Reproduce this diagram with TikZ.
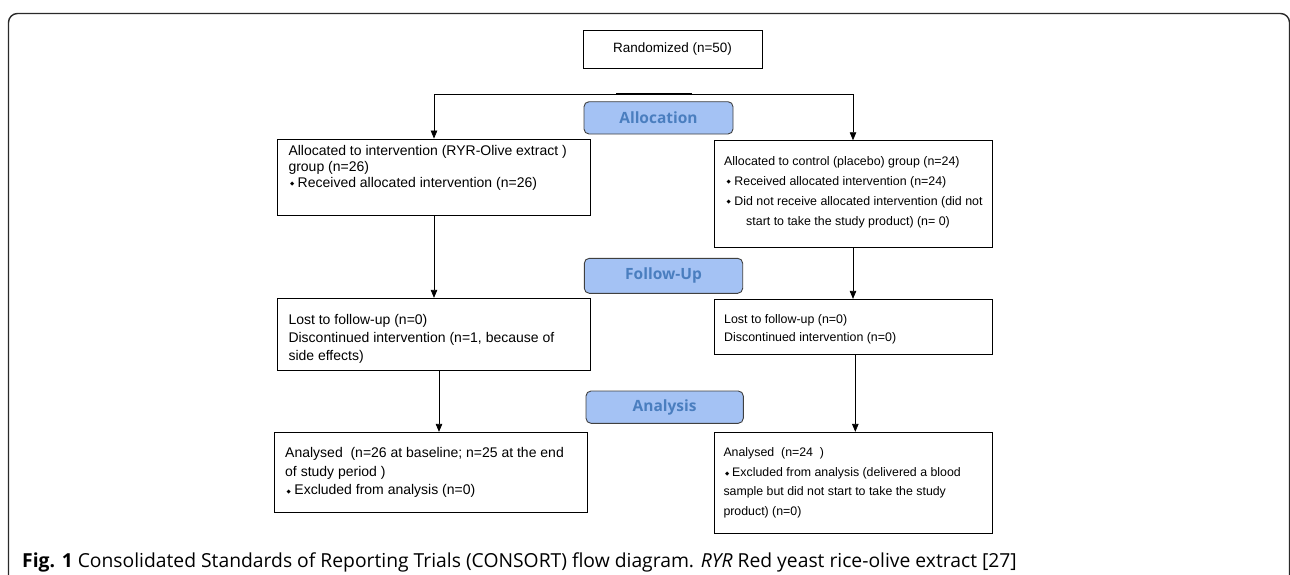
\documentclass[tikz,border=0pt]{standalone}
\usepackage{fontspec}
\setmainfont{Liberation Sans}
\newfontfamily\hdrfont{Open Sans}
\newfontfamily\capfont{Open Sans}
\newfontfamily\djv{DejaVu Sans}
\usetikzlibrary{arrows.meta}
\definecolor{hdrfill}{HTML}{A4C2F4}
\definecolor{hdrtext}{HTML}{4A7EBF}
\definecolor{framecol}{HTML}{2A2A2A}
\newcommand\bul{{\djv\fontsize{5.5}{5}\selectfont\raisebox{1.2pt}{◆}}}
\begin{document}
\begin{tikzpicture}[x=1pt,y=-1pt,
  box/.style={draw=black, line width=0.9pt, rectangle, inner sep=0pt},
  hdr/.style={draw=black!75, line width=0.9pt, fill=hdrfill, rounded corners=5pt,
     rectangle, inner sep=0pt, text=hdrtext, font=\hdrfont\bfseries\fontsize{15.5}{18}\selectfont},
  txt/.style={anchor=north west, inner sep=0pt, align=left},
  arr/.style={line width=0.8pt, -{Triangle[length=8pt,width=6.5pt]}}]
\useasboundingbox (0,0) rectangle (1290,574);
\begin{scope}
\clip (0,0) rectangle (1290,574);
\draw[framecol, line width=1.4pt, rounded corners=9pt] (8.5,600) -- (8.5,13.5) -- (1289.5,13.5) -- (1289.5,600);
\end{scope}

% boxes
\node[box, minimum width=179pt, minimum height=38pt] (rand) at (672.5,49) {\fontsize{13.5}{16}\selectfont Randomized (n=50)};
\node[hdr, minimum width=149pt, minimum height=32.3pt] (halloc) at (658.5,117.85) {Allocation};
\node[box, minimum width=313.4pt, minimum height=76pt] (la) at (434,177) {};
\node[box, minimum width=278pt, minimum height=106.3pt] (ra) at (853,193.85) {};
\node[hdr, minimum width=158.4pt, minimum height=35pt] (hfu) at (663.5,275.8) {Follow-Up};
\node[box, minimum width=313.4pt, minimum height=71.7pt] (lb) at (434,334.15) {};
\node[box, minimum width=278pt, minimum height=54.7pt] (rb) at (853,326.65) {};
\node[hdr, minimum width=157.3pt, minimum height=32.3pt] (han) at (664.65,407.15) {Analysis};
\node[box, minimum width=313.3pt, minimum height=80pt] (lc) at (430.65,472.3) {};
\node[box, minimum width=278pt, minimum height=101pt] (rc) at (853,482.8) {};

% texts
\node[txt, font=\fontsize{14}{16}\selectfont] (tla) at (288.3,144.7) {Allocated to intervention (RYR-Olive extract )\\group (n=26)\\\hspace*{1.5pt}\bul\hspace{3.5pt}Received allocated intervention (n=26)};
\node[txt, font=\fontsize{12.4}{20}\selectfont] (tra) at (724,156) {Allocated to control (placebo) group (n=24)\\\hspace*{2.5pt}\bul\hspace{3.5pt}Received allocated intervention (n=24)\\\hspace*{2.5pt}\bul\hspace{3.5pt}Did not receive allocated intervention (did not\\\hspace*{22pt}start to take the study product) (n= 0)};
\node[txt, font=\fontsize{14}{18.3}\selectfont] (tlb) at (288.3,314) {Lost to follow-up (n=0)\\Discontinued intervention (n=1, because of\\side effects)};
\node[txt, font=\fontsize{12.4}{18}\selectfont] (trb) at (724,314.6) {Lost to follow-up (n=0)\\Discontinued intervention (n=0)};
\node[txt, font=\fontsize{14}{18.8}\selectfont] (tlc) at (285,447) {Analysed\ \ (n=26 at baseline; n=25 at the end\\of study period )\\\hspace*{1.5pt}\bul\hspace{3.5pt}Excluded from analysis (n=0)};
\node[txt, font=\fontsize{12.35}{19.6}\selectfont] (trc) at (723.3,447.6) {Analysed\ \ (n=24\ \ )\\\hspace*{1.5pt}\bul\hspace{3pt}Excluded from analysis (delivered a blood\\sample but did not start to take the study\\product) (n=0)};

% connectors
\coordinate (split) at (rand.south |- 0,94.3);
\draw[arr] (split) -| (la.north);
\draw[arr] (split) -| (ra.north);
\draw[line width=2pt] ([xshift=-56.5pt]split) -- ([xshift=19.5pt]split);
\draw[arr] (la.south) -- (lb.north);
\draw[arr] (ra.south) -- (rb.north);
\draw[arr] ([xshift=5pt]lb.south) -- ([xshift=5pt]lb.south |- lc.north);
\draw[arr] ([xshift=2.3pt]rb.south) -- ([xshift=2.3pt]rb.south |- rc.north);

% caption
\node[anchor=base west, inner sep=0pt, font=\capfont\fontsize{19.3}{22}\selectfont] (cap) at (22,567)
 {\textbf{Fig. 1} Consolidated Standards of Reporting Trials (CONSORT) flow diagram. \textit{RYR} Red yeast rice-olive extract [27]};
\end{tikzpicture}
\end{document}
